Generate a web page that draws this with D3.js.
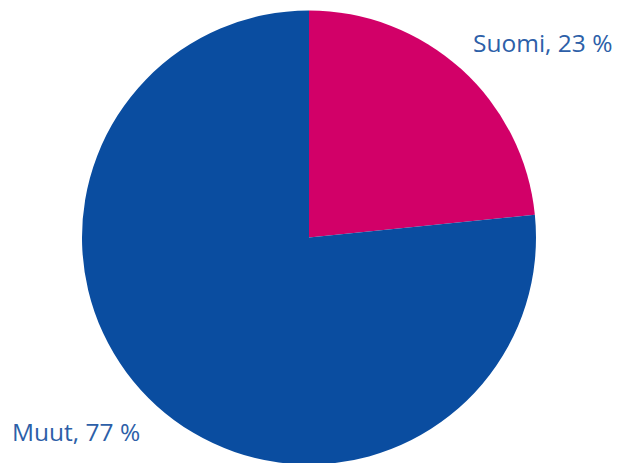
<!DOCTYPE html>
<html><head><meta charset="utf-8">
<script src="https://cdn.jsdelivr.net/npm/d3@7"></script>
<style>html,body{margin:0;padding:0;background:#fff;}</style>
</head><body>
<svg id="c" width="623" height="463"></svg>
<script>
const categories = ["Suomi", "Muut"];
const values = [23.4, 76.6];
const colors = ["#D20068", "#0A4DA0"];

const W = 623, H = 463;
const cx = 309, cy = 237.5, r = 227;
const svg = d3.select("#c");

const pie = d3.pie().sort(null).value(d => d.v);
const data = categories.map((c, i) => ({c, v: values[i], col: colors[i]}));
const arcs = pie(data);
const arc = d3.arc().innerRadius(0).outerRadius(r);

const g = svg.append("g").attr("transform", `translate(${cx},${cy})`);
g.selectAll("path").data(arcs).enter().append("path")
  .attr("d", arc).attr("fill", d => d.data.col);

const total = d3.sum(values);
const labelPos = [{x: 473, y: 52, anchor: "start"}, {x: 12, y: 441, anchor: "start"}];
svg.selectAll("text.lbl").data(arcs).enter().append("text")
  .attr("class", "lbl")
  .attr("x", (d, i) => labelPos[i].x)
  .attr("y", (d, i) => labelPos[i].y)
  .attr("text-anchor", (d, i) => labelPos[i].anchor)
  .attr("fill", "#2D5FA8")
  .style("font-family", "'Open Sans', 'Noto Sans', sans-serif")
  .style("font-size", "24.5px")
  .text(d => `${d.data.c}, ${Math.round(d.data.v / total * 100)} %`);
</script>
</body></html>
